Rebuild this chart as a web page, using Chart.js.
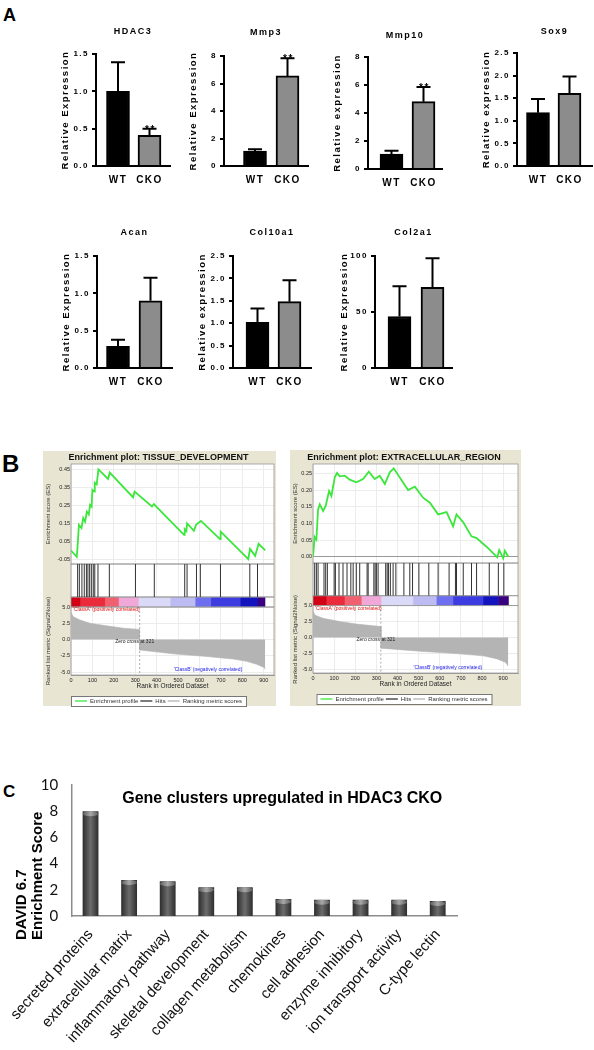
<!DOCTYPE html>
<html>
<head>
<meta charset="utf-8">
<script src="https://cdn.jsdelivr.net/npm/chart.js@4.4.1/dist/chart.umd.min.js"></script>
<style>
html, body { margin: 0; padding: 0; background: #fff; }
body { position: relative; width: 594px; height: 1050px; overflow: hidden; font-family: "Liberation Sans", Arial, sans-serif; }
canvas { position: absolute; }
.panel { position: absolute; font-weight: bold; line-height: 1; color: #000; }
</style>
</head>
<body>
<div class="panel" style="left:3px;top:6px;font-size:18px">A</div>
<div class="panel" style="left:2px;top:452px;font-size:24px">B</div>
<div class="panel" style="left:3px;top:783px;font-size:17px">C</div>

<script>
// ---- panel A: qPCR bars ----
const groups = ['WT', 'CKO'];
const genes = ['HDAC3', 'Mmp3', 'Mmp10', 'Sox9', 'Acan', 'Col10a1', 'Col2a1'];
const meanWT = [1.0, 1.09, 1.07, 1.18, 0.29, 1.02, 46];
const errWT = [0.39, 0.12, 0.24, 0.30, 0.09, 0.31, 27];
const meanCKO = [0.41, 6.55, 4.81, 1.61, 0.90, 1.48, 72];
const errCKO = [0.09, 1.28, 1.05, 0.37, 0.31, 0.48, 26];
const marks = ['**', '**', '**', '', '', '', ''];
const yTitles = ['Relative Expression', 'Relative Expression', 'Relative expression', 'Relative expression',
                 'Relative Expression', 'Relative expression', 'Relative Expression'];
const yMax = [1.5, 8, 8, 2.5, 1.5, 2.5, 100];
const yStep = [0.5, 2, 2, 0.5, 0.5, 0.5, 50];

// ---- panel B: GSEA enrichment plots ----
const rankTicks = [0, 100, 200, 300, 400, 500, 600, 700, 800, 900];
const metricTicks = [-5, -2.5, 0, 2.5, 5];
const zeroCross = 321;

const tdTitle = 'Enrichment plot: TISSUE_DEVELOPMENT';
const tdRank = [0, 27, 31, 37, 49, 57, 66, 74, 83, 89, 96, 100, 109, 111, 120, 128, 173, 181, 290, 297,
                378, 387, 528, 531, 539, 542, 574, 584, 607, 696, 699, 828, 836, 860, 876, 907];
const tdES = [0, -0.035, 0.03, 0.142, 0.124, 0.18, 0.16, 0.216, 0.2, 0.253, 0.243, 0.336, 0.327, 0.376, 0.367, 0.45, 0.397, 0.432, 0.295, 0.327,
              0.244, 0.258, 0.087, 0.118, 0.107, 0.151, 0.109, 0.142, 0.164, 0.063, 0.105, -0.048, 0.009, -0.03, 0.037, 0];
const tdHits = [31, 39, 51, 62, 72, 79, 87, 95, 104, 111, 126, 179, 301, 389, 531, 542, 586, 604, 698, 835, 871];
const tdEsTicks = [-0.05, 0, 0.05, 0.1, 0.15, 0.2, 0.25, 0.3, 0.35, 0.4, 0.45];
const tdMetricRank = [0, 11, 42, 89, 166, 244, 320, 320, 478, 634, 758, 820, 867, 902, 907];
const tdMetric = [4.2, 3.5, 3.0, 2.5, 2.1, 1.75, 1.55, -1.6, -2.2, -2.6, -3.0, -3.35, -3.8, -4.3, -4.6];
const tdBandEdges = [0, 44, 160, 223, 316, 464, 581, 654, 791, 872, 905];

const erTitle = 'Enrichment plot: EXTRACELLULAR_REGION';
const erRank = [0, 8, 16, 24, 32, 48, 60, 76, 87, 103, 114, 126, 150, 174, 205, 237, 264, 292, 316, 340,
                363, 382, 450, 482, 521, 553, 592, 632, 663, 679, 711, 750, 774, 821, 872, 881, 900, 908, 924];
const erES = [0, 0.059, 0.051, 0.142, 0.157, 0.137, 0.152, 0.197, 0.182, 0.238, 0.251, 0.241, 0.243, 0.231, 0.223, 0.233, 0.255, 0.233, 0.243, 0.218,
              0.253, 0.265, 0.2, 0.21, 0.177, 0.162, 0.127, 0.134, 0.091, 0.127, 0.103, 0.061, 0.056, 0.03, -0.002, 0.02, -0.005, 0.018, 0];
const erHits = [8, 16, 24, 52, 60, 68, 100, 106, 123, 142, 161, 179, 190, 205, 221, 256, 261, 288, 294, 300, 308,
                344, 351, 357, 366, 379, 392, 430, 458, 471, 501, 548, 592, 644, 674, 679, 711, 750, 774, 834, 877, 903];
const erEsTicks = [0, 0.05, 0.1, 0.15, 0.2, 0.25];
const erMetricRank = [0, 10, 48, 126, 205, 322, 322, 521, 679, 805, 868, 910, 924];
const erMetric = [4.1, 3.5, 3.0, 2.5, 2.1, 1.7, -1.7, -2.2, -2.55, -2.9, -3.35, -3.9, -4.5];
const erBandEdges = [0, 64, 150, 230, 324, 474, 585, 663, 805, 877, 924];

const bandColors = ['#d20014', '#eb2a3c', '#f0606e', '#f0a8d8', '#dadaf8', '#bcbcf2', '#6e6ef0', '#3c3ce0', '#1414be', '#3a0082'];

// ---- panel C: DAVID clusters ----
const clusters = ['secreted proteins', 'extracellular matrix', 'inflammatory pathway', 'skeletal development',
                  'collagen metabolism', 'chemokines', 'cell adhesion', 'enzyme inhibitory',
                  'ion transport activity', 'C-type lectin'];
const enrichScores = [8.0, 2.75, 2.65, 2.2, 2.2, 1.3, 1.25, 1.25, 1.25, 1.15];
const cTitle = 'Gene clusters upregulated in HDAC3 CKO';
const cAxisTitle = ['DAVID 6.7', 'Enrichment Score'];

Chart.defaults.font.family = '"Liberation Sans", Arial, sans-serif';
Chart.defaults.color = '#000';
Chart.defaults.animation = false;
Chart.defaults.events = [];
Chart.defaults.plugins.tooltip.enabled = false;

function makeCanvas(left, top, w, h) {
    const c = document.createElement('canvas');
    c.width = w;
    c.height = h;
    c.style.left = left + 'px';
    c.style.top = top + 'px';
    c.style.width = w + 'px';
    c.style.height = h + 'px';
    document.body.appendChild(c);
    return c;
}

// ---------- panel A ----------
// where each little plot sits on the page
const geo = [
    {al: 96, ar: 170, at: 54, ab: 166, c1: 118, c2: 149.5, ty: 32},
    {al: 224, ar: 308, at: 56, ab: 166, c1: 255, c2: 287.5, ty: 33},
    {al: 368, ar: 442, at: 57, ab: 169, c1: 391.5, c2: 423.5, ty: 36},
    {al: 517, ar: 592, at: 53, ab: 166, c1: 538, c2: 569.5, ty: 32},
    {al: 97, ar: 172, at: 256, ab: 368, c1: 118, c2: 150.5, ty: 233},
    {al: 233, ar: 311, at: 256, ab: 368, c1: 257.5, c2: 289.5, ty: 233},
    {al: 375, ar: 452, at: 256, ab: 368, c1: 399.5, c2: 432.5, ty: 233}
];

const spacing = {
    id: 'spacing',
    beforeDraw(chart) { chart.ctx.letterSpacing = '1.5px'; }
};

const errorBars = {
    id: 'errorBars',
    afterDatasetsDraw(chart, args, opts) {
        const ctx = chart.ctx;
        const y = chart.scales.y;
        const meta = chart.getDatasetMeta(0);
        ctx.save();
        ctx.strokeStyle = '#000';
        ctx.fillStyle = '#000';
        ctx.lineWidth = 2;
        meta.data.forEach((bar, i) => {
            const top = y.getPixelForValue(opts.means[i] + opts.errs[i]);
            ctx.beginPath();
            ctx.moveTo(bar.x, bar.y);
            ctx.lineTo(bar.x, top);
            ctx.moveTo(bar.x - 7, top);
            ctx.lineTo(bar.x + 7, top);
            ctx.stroke();
            if (opts.marks[i]) {
                ctx.font = 'bold 10px "Liberation Sans", Arial, sans-serif';
                ctx.textAlign = 'center';
                ctx.textBaseline = 'alphabetic';
                ctx.fillText(opts.marks[i], bar.x + 1, top + 4);
            }
        });
        ctx.restore();
    }
};

genes.forEach((gene, k) => {
    const g = geo[k];
    const yW = 36;
    const left = g.al - yW;
    const top = g.ty - 8;
    const cv = makeCanvas(left, top, g.ar + 3 - left, g.ab + 26 - top);
    const unit = g.c2 - g.c1;
    const dec = yStep[k] < 1 ? 1 : 0;
    const means = [meanWT[k], meanCKO[k]];
    new Chart(cv, {
        type: 'bar',
        data: {
            datasets: [{
                data: means.map((v, i) => ({x: i + 1, y: v})),
                backgroundColor: ['#000', '#8c8c8c'],
                borderColor: '#000',
                borderWidth: 2,
                borderSkipped: 'bottom',
                barThickness: 23
            }]
        },
        options: {
            responsive: false,
            layout: {padding: {right: 3}},
            plugins: {
                legend: {display: false},
                title: {
                    display: true, text: gene, fullSize: false,
                    font: {size: 9, weight: 'bold'},
                    padding: {top: 2, bottom: g.at - g.ty - 4.8}
                },
                errorBars: {means: means, errs: [errWT[k], errCKO[k]], marks: ['', marks[k]]}
            },
            scales: {
                x: {
                    type: 'linear',
                    offset: false,
                    min: 1 - (g.c1 - g.al) / unit,
                    max: 2 + (g.ar - g.c2) / unit,
                    afterBuildTicks: s => { s.ticks = [{value: 1}, {value: 2}]; },
                    afterFit: s => { s.height = 26; },
                    grid: {display: false, drawTicks: false},
                    border: {color: '#000', width: 2},
                    ticks: {callback: v => groups[v - 1], font: {size: 10, weight: 'bold'}, padding: 8, maxRotation: 0}
                },
                y: {
                    min: 0, max: yMax[k],
                    afterFit: s => { s.width = yW; },
                    ticks: {stepSize: yStep[k], callback: v => v.toFixed(dec), font: {size: 8, weight: 'bold'}, padding: 3},
                    grid: {drawOnChartArea: false, tickLength: 4, color: '#000', lineWidth: 2},
                    border: {color: '#000', width: 2},
                    title: {display: true, text: yTitles[k], font: {size: 9.5, weight: 'bold'}, padding: {top: 0, bottom: 0}}
                }
            }
        },
        plugins: [spacing, errorBars]
    });
});

// ---------- panel B ----------
const gseaDecor = {
    id: 'gseaDecor',
    beforeDraw(chart, args, o) {
        const {ctx, chartArea: a} = chart;
        ctx.save();
        ctx.fillStyle = '#e8e5d3';
        ctx.fillRect(0, 0, chart.width, o.boxH);
        ctx.fillStyle = '#fff';
        ctx.fillRect(a.left, a.top, a.right - a.left, a.bottom - a.top);
        // box round the legend
        const boxes = chart.legend.legendHitBoxes;
        if (boxes && boxes.length) {
            const x0 = Math.min(...boxes.map(b => b.left)) - 4;
            const x1 = Math.max(...boxes.map(b => b.left + b.width)) + 4;
            const y0 = Math.min(...boxes.map(b => b.top)) - 2;
            const y1 = Math.max(...boxes.map(b => b.top + b.height)) + 2;
            ctx.fillStyle = '#fff';
            ctx.fillRect(x0, y0, x1 - x0, y1 - y0);
            ctx.strokeStyle = '#777';
            ctx.lineWidth = 1;
            ctx.strokeRect(x0 + 0.5, y0 + 0.5, x1 - x0, y1 - y0);
        }
        ctx.restore();
    },
    beforeDatasetsDraw(chart, args, o) {
        const {ctx, chartArea: a, scales} = chart;
        const x = scales.x, yc = scales.yColor;
        ctx.save();
        for (let i = 0; i < o.edges.length - 1; i++) {
            const x0 = x.getPixelForValue(o.edges[i]);
            const x1 = x.getPixelForValue(o.edges[i + 1]);
            ctx.fillStyle = bandColors[i];
            ctx.fillRect(x0, yc.top, x1 - x0 + 0.5, yc.bottom - yc.top);
        }
        ctx.strokeStyle = '#9a9a9a';
        ctx.lineWidth = 0.8;
        ['yES', 'yHits', 'yColor', 'yMetric'].forEach(id => {
            const s = scales[id];
            ctx.strokeRect(a.left, s.top, a.right - a.left, s.bottom - s.top);
        });
        ctx.restore();
    },
    afterDatasetsDraw(chart, args, o) {
        const {ctx, chartArea: a, scales} = chart;
        const x = scales.x, ym = scales.yMetric;
        const zx = x.getPixelForValue(zeroCross);
        ctx.save();
        ctx.strokeStyle = '#9a9a9a';
        ctx.lineWidth = 0.8;
        ctx.setLineDash([2, 2]);
        ctx.beginPath();
        ctx.moveTo(zx, ym.top);
        ctx.lineTo(zx, ym.bottom);
        ctx.stroke();
        ctx.font = '5px "Liberation Sans", Arial, sans-serif';
        ctx.textBaseline = 'middle';
        ctx.fillStyle = '#222';
        ctx.textAlign = 'center';
        ctx.fillText('Zero cross at ' + zeroCross, zx - 5, ym.getPixelForValue(0) + 2);
        ctx.fillStyle = '#e01010';
        ctx.textAlign = 'left';
        ctx.fillText("'ClassA' (positively correlated)", a.left + 2, ym.top + 3);
        ctx.fillStyle = '#1a1ae6';
        ctx.textAlign = 'right';
        ctx.fillText("'ClassB' (negatively correlated)", x.getPixelForValue(800), ym.bottom - 5);
        ctx.restore();
    }
};

function gseaChart(cv, s) {
    const tick = {font: {size: 5.5}, color: '#222', padding: 1};
    return new Chart(cv, {
        type: 'line',
        data: {
            datasets: [
                {
                    label: 'Enrichment profile',
                    data: s.rank.map((r, i) => ({x: r, y: s.es[i]})),
                    yAxisID: 'yES', borderColor: '#3ce63c', borderWidth: 1.8,
                    pointRadius: 0, tension: 0
                },
                {
                    label: 'Hits',
                    data: s.hits.map(r => ({x: r, y: 0.5})),
                    yAxisID: 'yHits', showLine: false, borderColor: '#333',
                    pointStyle: 'line', pointRotation: 90, pointBorderColor: '#333', pointBorderWidth: 1,
                    pointRadius: c => c.chart.scales.yHits ? c.chart.scales.yHits.height / 2 : 16
                },
                {
                    label: 'Ranking metric scores',
                    data: s.mRank.map((r, i) => ({x: r, y: s.metric[i]})),
                    yAxisID: 'yMetric', borderColor: '#b4b4b4', backgroundColor: '#b4b4b4',
                    borderWidth: 0.6, fill: 'origin', pointRadius: 0, tension: 0
                }
            ]
        },
        options: {
            responsive: false,
            layout: {padding: {right: s.padRight, bottom: 0, top: s.padTop}},
            plugins: {
                title: {display: true, text: s.title, font: {size: 9, weight: 'bold'}, color: '#111', padding: {top: 1, bottom: 1.2}},
                legend: {
                    display: true, position: 'bottom',
                    labels: {
                        usePointStyle: true, pointStyleWidth: 12, boxHeight: 6, padding: 2,
                        font: {size: 6}, color: '#333',
                        generateLabels: ch => Chart.defaults.plugins.legend.labels.generateLabels(ch)
                            .map(l => Object.assign(l, {pointStyle: 'line', rotation: 0, lineWidth: 1.3}))
                    }
                },
                gseaDecor: {edges: s.edges, boxH: s.boxH}
            },
            scales: {
                x: {
                    type: 'linear', min: 0, max: s.xMax,
                    afterBuildTicks: sc => { sc.ticks = rankTicks.map(v => ({value: v})); },
                    afterFit: sc => { sc.height = 21; },
                    ticks: Object.assign({maxRotation: 0}, tick),
                    grid: {color: '#ececec', tickLength: 1, tickColor: '#999'},
                    border: {color: '#999'},
                    title: {display: true, text: 'Rank in Ordered Dataset', font: {size: 6.5}, color: '#222', padding: {top: 0, bottom: 6}}
                },
                yMetric: {
                    type: 'linear', position: 'left', stack: 'gsea', stackWeight: 68,
                    min: s.mMin, max: 5,
                    afterBuildTicks: sc => { sc.ticks = metricTicks.map(v => ({value: v})); },
                    afterFit: sc => { sc.width = s.yW; },
                    ticks: Object.assign({callback: v => v.toFixed(1)}, tick),
                    grid: {color: '#ececec', drawTicks: false},
                    border: {display: false},
                    title: {display: true, text: 'Ranked list metric (Signal2Noise)', font: {size: 6}, color: '#333', padding: {top: 2, bottom: 0}}
                },
                yColor: {
                    type: 'linear', position: 'left', stack: 'gsea', stackWeight: 10, min: 0, max: 1,
                    afterFit: sc => { sc.width = s.yW; },
                    ticks: {display: false}, grid: {display: false}, border: {display: false}
                },
                yHits: {
                    type: 'linear', position: 'left', stack: 'gsea', stackWeight: 33, min: 0, max: 1,
                    afterFit: sc => { sc.width = s.yW; },
                    ticks: {display: false}, grid: {display: false}, border: {display: false}
                },
                yES: {
                    type: 'linear', position: 'left', stack: 'gsea', stackWeight: 100,
                    min: s.esMin, max: s.esMax,
                    afterBuildTicks: sc => { sc.ticks = s.esTicks.map(v => ({value: v})); },
                    afterFit: sc => { sc.width = s.yW; },
                    ticks: Object.assign({callback: v => v.toFixed(2)}, tick),
                    grid: {color: c => (c.tick && c.tick.value === 0 ? '#999' : '#ececec'), drawTicks: false},
                    border: {display: false},
                    title: {display: true, text: 'Enrichment score (ES)', font: {size: 6}, color: '#333', padding: {top: 2, bottom: 0}}
                }
            }
        },
        plugins: [gseaDecor]
    });
}

gseaChart(makeCanvas(43, 451, 233, 263), {
    title: tdTitle, rank: tdRank, es: tdES, hits: tdHits, mRank: tdMetricRank, metric: tdMetric,
    edges: tdBandEdges, esTicks: tdEsTicks, esMin: -0.075, esMax: 0.48, mMin: -5.45, xMax: 948,
    yW: 28, padRight: 2, padTop: 0, boxH: 255
});
gseaChart(makeCanvas(290, 450, 231, 262), {
    title: erTitle, rank: erRank, es: erES, hits: erHits, mRank: erMetricRank, metric: erMetric,
    edges: erBandEdges, esTicks: erEsTicks, esMin: -0.019, esMax: 0.278, mMin: -5.6, xMax: 970,
    yW: 23, padRight: 3, padTop: 1, boxH: 256
});

// ---------- panel C ----------
const titleC = {
    id: 'titleC',
    afterDatasetsDraw(chart) {
        // light rounded cap on top of each bar
        const ctx = chart.ctx;
        ctx.save();
        chart.getDatasetMeta(0).data.forEach(bar => {
            const w = bar.width;
            const g = ctx.createLinearGradient(bar.x - w / 2, 0, bar.x + w / 2, 0);
            g.addColorStop(0, '#5a5a5a');
            g.addColorStop(0.5, '#a8a8a8');
            g.addColorStop(1, '#5a5a5a');
            ctx.fillStyle = g;
            ctx.beginPath();
            ctx.ellipse(bar.x, bar.y + 2.5, w / 2, 2.5, 0, 0, Math.PI * 2);
            ctx.fill();
        });
        ctx.restore();
    },
    afterDraw(chart) {
        const {ctx, chartArea: a} = chart;
        ctx.save();
        ctx.font = 'bold 16px "Liberation Sans", Arial, sans-serif';
        ctx.fillStyle = '#000';
        ctx.textAlign = 'center';
        ctx.textBaseline = 'middle';
        ctx.fillText(cTitle, a.left + 211, a.top + 14);
        // axis title, both lines starting a little below the axis foot
        ctx.font = 'bold 15px "Liberation Sans", Arial, sans-serif';
        ctx.textAlign = 'left';
        ctx.translate(0, a.bottom + 24);
        ctx.rotate(-Math.PI / 2);
        ctx.fillText(cAxisTitle[0], 0, 22);
        ctx.fillText(cAxisTitle[1], 0, 38);
        ctx.restore();
    }
};

new Chart(makeCanvas(0, 770, 594, 280), {
    type: 'bar',
    data: {
        labels: clusters,
        datasets: [{
            data: enrichScores,
            backgroundColor: c => {
                const ch = c.chart;
                if (!ch.chartArea || !ch.scales.x) return '#4a4a4a';
                const x = ch.scales.x.getPixelForValue(c.dataIndex);
                const g = ch.ctx.createLinearGradient(x - 8, 0, x + 8, 0);
                g.addColorStop(0, '#2c2c2c');
                g.addColorStop(0.5, '#6c6c6c');
                g.addColorStop(1, '#2c2c2c');
                return g;
            },
            borderWidth: 0,
            barPercentage: 0.41,
            categoryPercentage: 1
        }]
    },
    options: {
        responsive: false,
        layout: {padding: {top: 15, right: 137}},
        plugins: {legend: {display: false}},
        scales: {
            x: {
                grid: {display: false, drawTicks: false},
                border: {color: '#8c8c8c', width: 1.5},
                ticks: {font: {size: 15}, color: '#111', minRotation: 48, maxRotation: 48, padding: 10, autoSkip: false},
                afterFit: s => { s.height = 134; }
            },
            y: {
                min: 0, max: 10,
                ticks: {stepSize: 2, font: {family: 'Lato', size: 15}, color: '#111', padding: 3},
                grid: {display: false, drawTicks: true, tickLength: 10},
                border: {color: '#8c8c8c', width: 1.5},
                afterFit: s => { s.width = 71; }
            }
        }
    },
    plugins: [titleC]
});
</script>
</body>
</html>
